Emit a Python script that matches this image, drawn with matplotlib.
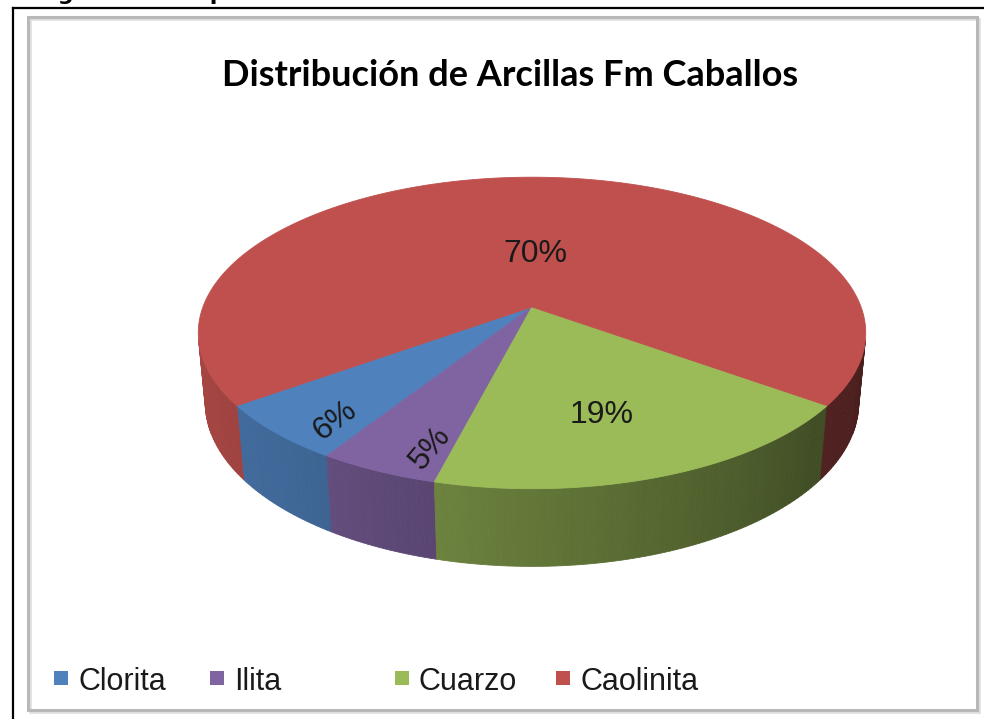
import matplotlib.pyplot as plt
import matplotlib.patches as mpatches
import numpy as np

# Datos
categorias = ['Clorita', 'Ilita', 'Cuarzo', 'Caolinita']
porcentajes = [6, 5, 19, 70]
colores = ['#4f81bd', '#8064a2', '#9bbb59', '#c0504d']
titulo = 'Distribución de Arcillas Fm Caballos'

# Parametros de la vista 3D (perspectiva tipo Excel)
elev = np.radians(27.4)
D = 5.33          # distancia de la camara
K = 1754          # escala en pixeles
h = 0.24          # altura del disco
cx, cy = 532, 307 # vertice del pastel en pixeles
inicio = 216      # angulo inicial (grados)

c_e, s_e = np.cos(elev), np.sin(elev)


def proyectar(x, y, z):
    prof = D + y * c_e - z * s_e
    sx = x / prof
    sy = (y * s_e + z * c_e) / prof
    return cx + K * sx, cy - K * sy


def arco(a0, a1, z, n=None):
    if n is None:
        n = max(int(abs(a1 - a0)) + 2, 3)
    t = np.radians(np.linspace(a0, a1, n))
    return np.array([proyectar(np.cos(a), np.sin(a), z) for a in t])


def sombra(ang):
    ang = ang % 360
    return np.interp(ang, [190, 230, 260, 320, 350], [0.88, 0.8, 0.68, 0.42, 0.38])


fig = plt.figure(figsize=(9.84, 7.19), dpi=100)
ax = fig.add_axes([0, 0, 1, 1])
ax.set_xlim(0, 984)
ax.set_ylim(719, 0)
ax.axis('off')

# marco del grafico
marco = mpatches.Rectangle((28, 17), 949, 693, fill=False, edgecolor='#b8b8b8', linewidth=2.2)
ax.add_patch(marco)
sombra_der = mpatches.Rectangle((30, 19), 949, 693, fill=False, edgecolor='#e0e0e0', linewidth=2, zorder=0)
ax.add_patch(sombra_der)
ax.plot([12.5, 12.5], [7.5, 719], color='black', linewidth=1.6)
ax.plot([12.5, 984], [7.5, 7.5], color='black', linewidth=1.6)
# texto de la figura recortado en el borde superior
fig.text(35 / 984, 1.0, 'Figura 2. Composición', fontsize=16, fontweight='bold', va='baseline', ha='left')

# angulos de cada sector
fracs = np.array(porcentajes) / sum(porcentajes)
limites = inicio + 360 * np.concatenate([[0], np.cumsum(fracs)])

# pared visible del cilindro
lim = np.degrees(np.arcsin(1 / (D * c_e)))
vis0, vis1 = 180 + lim, 360 - lim

for i, col in enumerate(colores):
    a0, a1 = limites[i], limites[i + 1]
    for desp in (0, 360):
        b0, b1 = max(a0, vis0 + desp), min(a1, vis1 + desp)
        if b1 <= b0:
            continue
        pasos = np.linspace(b0, b1, int(b1 - b0) + 2)
        rgb = np.array(plt.matplotlib.colors.to_rgb(col))
        for p0, p1 in zip(pasos[:-1], pasos[1:]):
            arr = arco(p0, p1, 0, 2)
            abj = arco(p1, p0, -h, 2)
            f = sombra((p0 + p1) / 2)
            ax.add_patch(mpatches.Polygon(np.vstack([arr, abj]), closed=True,
                                          facecolor=rgb * f, edgecolor=rgb * f, linewidth=0.6))

# caras superiores
for i, col in enumerate(colores):
    a0, a1 = limites[i], limites[i + 1]
    pts = np.vstack([[proyectar(0, 0, 0)], arco(a0, a1, 0)])
    ax.add_patch(mpatches.Polygon(pts, closed=True, facecolor=col, edgecolor=col, linewidth=0.6))

# etiquetas de porcentaje
radio_etq = [0.80, 0.71, 0.55, 0.39]
dy_etq = [16, 30, 22, 2]
rot_etq = [37, 50, 0, 0]
for i in range(len(categorias)):
    m = np.radians((limites[i] + limites[i + 1]) / 2)
    x, y = proyectar(radio_etq[i] * np.cos(m), radio_etq[i] * np.sin(m), 0)
    ax.text(x + 3, y + dy_etq[i], f'{porcentajes[i]}%', fontsize=23, family='Liberation Sans',
            ha='center', va='center', rotation=rot_etq[i], color='#1a1a1a')

# titulo
ax.text(510, 76, titulo, fontsize=26, fontweight='bold', family='Lato', ha='center', va='center')

# leyenda
ley_x = [61, 217, 402, 563]
for i, nombre in enumerate(categorias):
    ax.add_patch(mpatches.Rectangle((ley_x[i] - 7, 671), 14, 14, facecolor=colores[i], edgecolor='none'))
    ax.text(ley_x[i] + 17, 690, nombre, fontsize=22, family=['Liberation Sans Narrow', 'Liberation Sans'],
            ha='left', va='baseline', color='#1a1a1a')

plt.savefig('out.png', dpi=100)
